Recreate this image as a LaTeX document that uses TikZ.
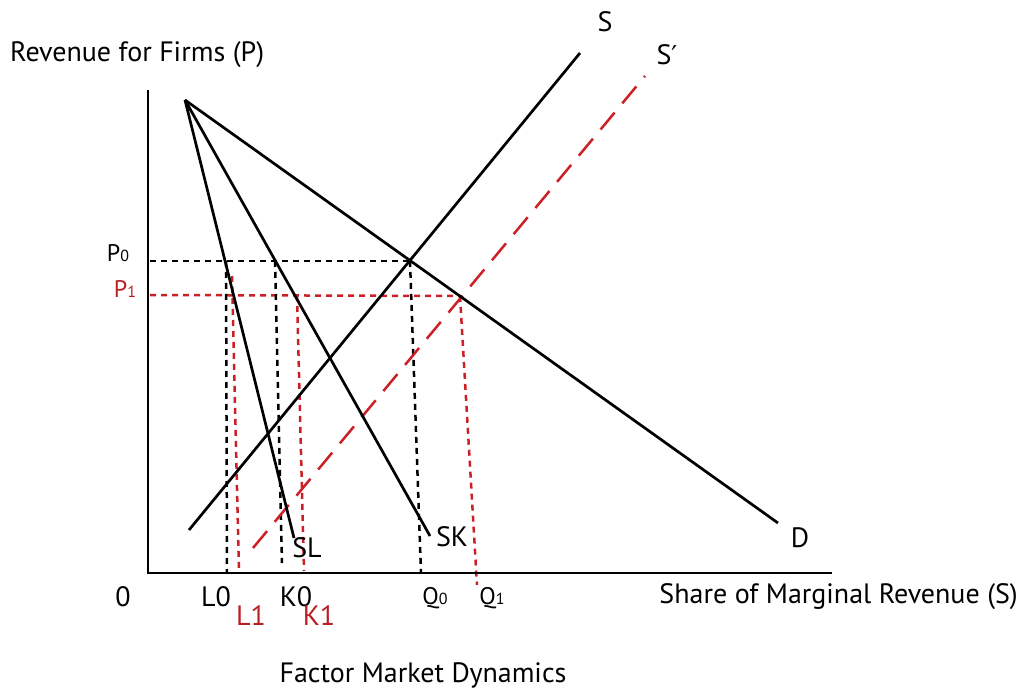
\documentclass[tikz,border=0pt]{standalone}
\usepackage{fontspec}
\setmainfont{PT Sans}
\newfontfamily\djv{DejaVu Sans}
\definecolor{myred}{RGB}{204,32,39}
\definecolor{labred}{RGB}{185,30,35}
\begin{document}
\begin{tikzpicture}[x=1pt,y=-1pt,
  solidline/.style={line width=2.7pt,black},
  blackdash/.style={line width=2.5pt,black,dash pattern=on 6pt off 5pt},
  reddash/.style={line width=2.5pt,myred,dash pattern=on 6pt off 5pt},
  redlong/.style={line width=2.5pt,myred,dash pattern=on 22pt off 12pt},
  lab/.style={inner sep=0pt,font=\fontsize{28}{32}\selectfont},
  small/.style={inner sep=0pt,font=\fontsize{24}{28}\selectfont}]
\useasboundingbox (0,0) rectangle (1023,692);
% coordinates
\coordinate (O) at (148,573);
\coordinate (Ytop) at (148,90);
\coordinate (Xend) at (832,573);
\coordinate (A) at (185,100);
\coordinate (Dend) at (778,523);
\coordinate (SLend) at (294,538);
\coordinate (SKend) at (430,536);
\coordinate (Sbot) at (189,530);
\coordinate (Stop) at (580,53);
\coordinate (Spbot) at (253,548);
\coordinate (Sptop) at (645,76);
\coordinate (E0) at (410,261);
\coordinate (E1) at (460,296);
\coordinate (P0a) at (150,261);
\coordinate (P1a) at (150,295);
\coordinate (L0t) at (226,261);
\coordinate (L0b) at (227,573);
\coordinate (K0t) at (275,261);
\coordinate (K0b) at (282,563);
\coordinate (Q0b) at (421,573);
\coordinate (L1t) at (232,276);
\coordinate (L1b) at (239,573);
\coordinate (K1t) at (297,295);
\coordinate (K1b) at (304,571);
\coordinate (Q1b) at (477,585);
% dashed guides
\draw[blackdash] (P0a) -- (E0);
\draw[reddash] (P1a) -- (E1);
\draw[blackdash] (L0t) -- (L0b);
\draw[blackdash] (K0t) -- (K0b);
\draw[blackdash] (E0) -- (Q0b);
\draw[reddash] (L1t) -- (L1b);
\draw[reddash] (K1t) -- (K1b);
\draw[reddash] (E1) -- (Q1b);
% curves
\draw[redlong] (Spbot) -- (Sptop);
\draw[solidline] (A) -- (Dend);
\draw[solidline] (A) -- (SLend);
\draw[solidline] (A) -- (SKend);
\draw[solidline] (Sbot) -- (Stop);
% axes
\draw[solidline] (Ytop) -- (O) -- (Xend);
% labels
\node[lab,anchor=west] (ylab) at (10,55) {Revenue for Firms (P)};
\node[lab,anchor=east] (xlab) at (1018,597) {Share of Marginal Revenue (S)};
\node[lab] (title) at (423,675) {Factor Market Dynamics};
\node[lab] (Slab) at (605,22) {S};
\node[lab] (Splab) at (667,55) {S{\djv\fontsize{26}{30}\selectfont ′}};
\node[lab] (Dlab) at (800,538) {D};
\node[lab] (SLlab) at (307,548) {SL};
\node[lab] (SKlab) at (452,537) {SK};
\node[lab] (zero) at (123,597) {0};
\node[lab] (L0lab) at (216,597) {L0};
\node[lab] (K0lab) at (296,597) {K0};
\node[lab,text=labred] (L1lab) at (251,616) {L1};
\node[lab,text=labred] (K1lab) at (319,616) {K1};
\node[small] (Q0lab) at (435,598) {Q{\fontsize{16}{16}\selectfont 0}};
\node[small] (Q1lab) at (492,598) {Q{\fontsize{16}{16}\selectfont 1}};
\node[small] (P0lab) at (118,253) {P{\fontsize{16}{16}\selectfont 0}};
\node[small,text=labred] (P1lab) at (125,289) {P{\fontsize{16}{16}\selectfont 1}};
\end{tikzpicture}
\end{document}
